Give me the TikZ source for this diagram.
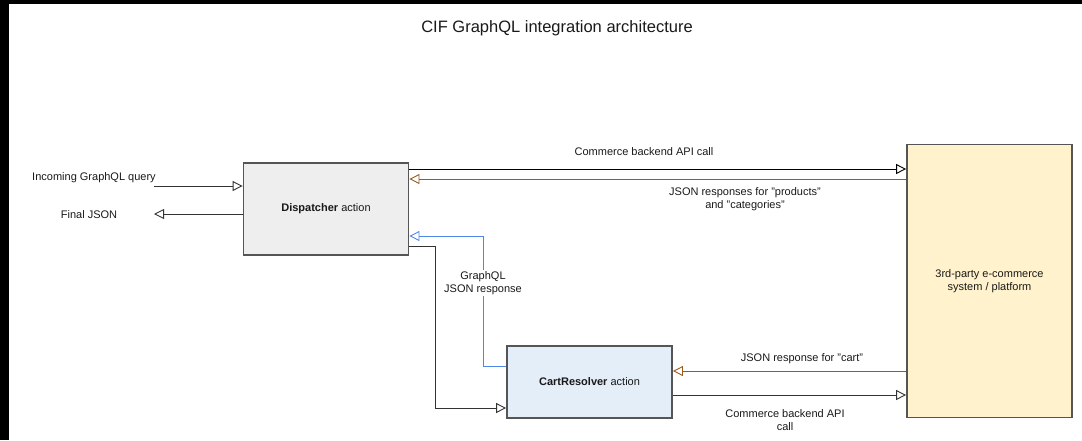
\documentclass[tikz,border=0pt]{standalone}
\usepackage{fontspec}
\setmainfont{Liberation Sans}
\usetikzlibrary{arrows.meta,positioning}
\definecolor{boxline}{HTML}{555555}
\definecolor{dispfill}{HTML}{EEEEEE}
\definecolor{cartfill}{HTML}{E4EEF9}
\definecolor{platfill}{HTML}{FFF2CC}
\definecolor{respline}{HTML}{9A5A1C}
\definecolor{gqlline}{HTML}{4D88E8}
\definecolor{wireline}{HTML}{333333}

\begin{document}
\begin{tikzpicture}[x=1pt,y=-1pt,
  box/.style={draw=boxline, line width=1.8pt, minimum width=165pt, align=center, text=black!90, font=\fontsize{11}{13}\selectfont},
  lbl/.style={align=center, inner sep=1pt, text=black!90, font=\fontsize{11}{13}\selectfont},
  arr/.style={-{Triangle[open,length=10pt,width=10pt]}, line width=0.9pt}]
\useasboundingbox (0,0) rectangle (1082,440);
\fill[black] (0,0) rectangle (1082,4);
\fill[black] (0,0) rectangle (9,440);

\node[lbl, font=\fontsize{16.5}{19}\selectfont] (title) at (557,28) {CIF GraphQL integration architecture};

\node[box, fill=dispfill, minimum height=92pt] (disp) at (326,209) {\textbf{Dispatcher} action};
\node[box, fill=cartfill, minimum height=72pt] (cart) at (589.5,382) {\textbf{CartResolver} action};
\node[box, fill=platfill, minimum height=273pt] (plat) at (989.5,281) {3rd-party e-commerce\\system / platform};

\node[lbl] (query) at (94,178) {Incoming GraphQL query};
\node[lbl] (final) at (89,215) {Final JSON};
\node[lbl] (apiA) at (644,152) {Commerce backend API call};
\node[lbl] (prodresp) at (745,199) {JSON responses for "products"\\and "categories"};
\node[lbl] (cartresp) at (802,359) {JSON response for "cart"};
\node[lbl] (apiB) at (785,420) {Commerce backend API\\call};

\coordinate (qin) at (154,186);
\coordinate (fout) at (154,214);
\coordinate (callA) at (0,169);
\coordinate (respA) at (0,179);
\coordinate (gqlY) at (0,236);
\coordinate (toCart) at (0,246);
\coordinate (gqlX) at (483,0);
\coordinate (bendX) at (435,0);
\coordinate (cartOut) at (0,366);
\coordinate (cartIn) at (0,408);
\coordinate (respB) at (0,371);
\coordinate (callB) at (0,395);

\draw[arr, wireline] (qin) -- (qin -| disp.west);
\draw[arr, wireline] (fout -| disp.west) -- (fout);
\draw[arr, black] (disp.east |- callA) -- (plat.west |- callA);
\draw[arr, respline] (plat.west |- respA) -- (disp.east |- respA);
\draw[arr, gqlline] (cart.west |- cartOut) -| (gqlX |- gqlY) -- (disp.east |- gqlY);
\draw[arr, wireline] (disp.east |- toCart) -| (bendX |- cartIn) -- (cart.west |- cartIn);
\draw[arr, respline] (plat.west |- respB) -- (cart.east |- respB);
\draw[arr, wireline] (cart.east |- callB) -- (plat.west |- callB);

\node[lbl, fill=white] (gqlresp) at (483,283) {GraphQL\\JSON response};
\end{tikzpicture}
\end{document}
